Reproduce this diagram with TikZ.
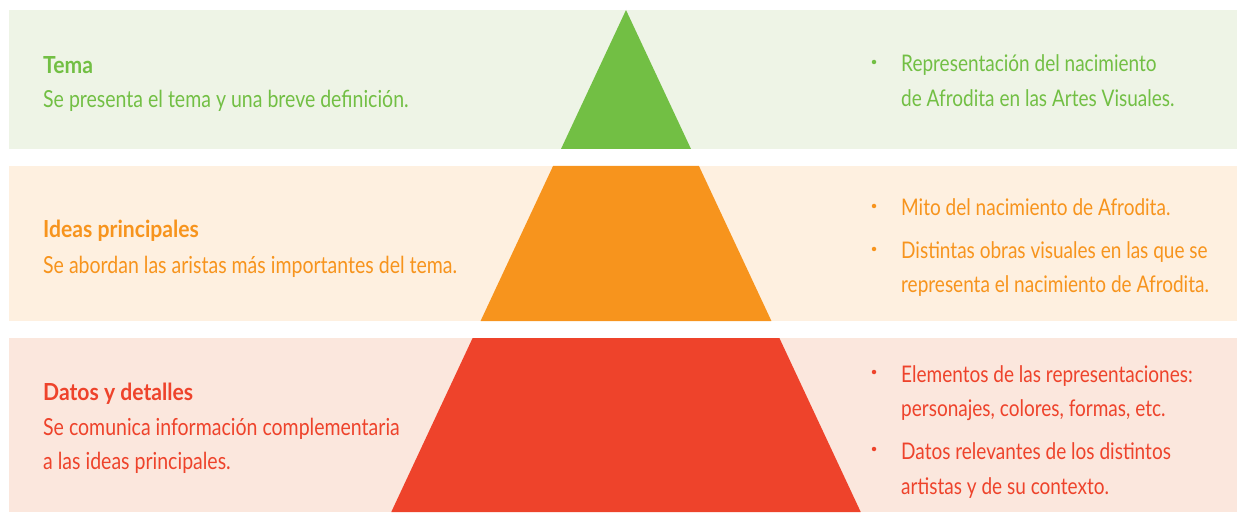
\documentclass[tikz,border=0pt]{standalone}
\usepackage{fontspec}
\newfontfamily\cf[FakeStretch=0.83]{Lato}
\newfontfamily\cfb[FakeStretch=0.9]{Lato Bold}
\definecolor{gbg}{HTML}{EEF4E6}
\definecolor{obg}{HTML}{FEF0E0}
\definecolor{rbg}{HTML}{FBE7DD}
\definecolor{gfg}{HTML}{72BF44}
\definecolor{ofg}{HTML}{F7941D}
\definecolor{rfg}{HTML}{EE432B}
\tikzset{
  txt/.style={anchor=base west, inner sep=0pt, font=\cf\fontsize{23.5}{28}\selectfont},
  rtxt/.style={txt, font=\cf\fontsize{22.9}{28}\selectfont},
  ttl/.style={txt, font=\cfb\fontsize{23.5}{28}\selectfont},
  bul/.style={circle, inner sep=0pt, minimum size=4.5pt},
}
\begin{document}
\begin{tikzpicture}[x=1pt,y=1pt]
\useasboundingbox (0,0) rectangle (1237,512);
% bands
\fill[gbg] (9,502) rectangle (1237,363);
\fill[obg] (9,346) rectangle (1237,191);
\fill[rbg] (9,174) rectangle (1237,0);
% pyramid pieces: apex (626,502), half-width = 0.4676 * depth
\fill[gfg] (626,502) -- (691,363) -- (561,363) -- cycle;
\fill[ofg] ({626-0.4676*156},346) -- ({626+0.4676*156},346) -- ({626+0.4676*311},191) -- ({626-0.4676*311},191) -- cycle;
\fill[rfg] ({626-0.4676*328},174) -- ({626+0.4676*328},174) -- ({626+0.4676*502},0) -- ({626-0.4676*502},0) -- cycle;
% left texts
\node[ttl, text=gfg] (t1) at (43,438) {Tema};
\node[txt, text=gfg] (d1) at (43,404) {Se presenta el tema y una breve definición.};
\node[ttl, text=ofg] (t2) at (43,274) {Ideas principales};
\node[txt, text=ofg] (d2) at (43,238) {Se abordan las aristas más importantes del tema.};
\node[ttl, text=rfg] (t3) at (43,112) {Datos y detalles};
\node[txt, text=rfg] (d3a) at (43,77) {Se comunica información complementaria};
\node[txt, text=rfg] (d3b) at (43,43) {a las ideas principales.};
% right texts
\node[bul, fill=gfg] (b1) at (874,450) {};
\node[rtxt, text=gfg] (r1a) at (901,440) {Representación del nacimiento};
\node[rtxt, text=gfg] (r1b) at (901,405) {de Afrodita en las Artes Visuales.};
\node[bul, fill=ofg] (b2) at (874,306) {};
\node[rtxt, text=ofg] (r2a) at (901,296) {Mito del nacimiento de Afrodita.};
\node[bul, fill=ofg] (b3) at (874,263) {};
\node[rtxt, text=ofg] (r3a) at (901,253) {Distintas obras visuales en las que se};
\node[rtxt, text=ofg] (r3b) at (901,219) {representa el nacimiento de Afrodita.};
\node[bul, fill=rfg] (b4) at (874,140) {};
\node[rtxt, text=rfg] (r4a) at (901,130) {Elementos de las representaciones:};
\node[rtxt, text=rfg] (r4b) at (901,96) {personajes, colores, formas, etc.};
\node[bul, fill=rfg] (b5) at (874,63) {};
\node[rtxt, text=rfg] (r5a) at (901,53) {Datos relevantes de los distintos};
\node[rtxt, text=rfg] (r5b) at (901,18) {artistas y de su contexto.};
\end{tikzpicture}
\end{document}
